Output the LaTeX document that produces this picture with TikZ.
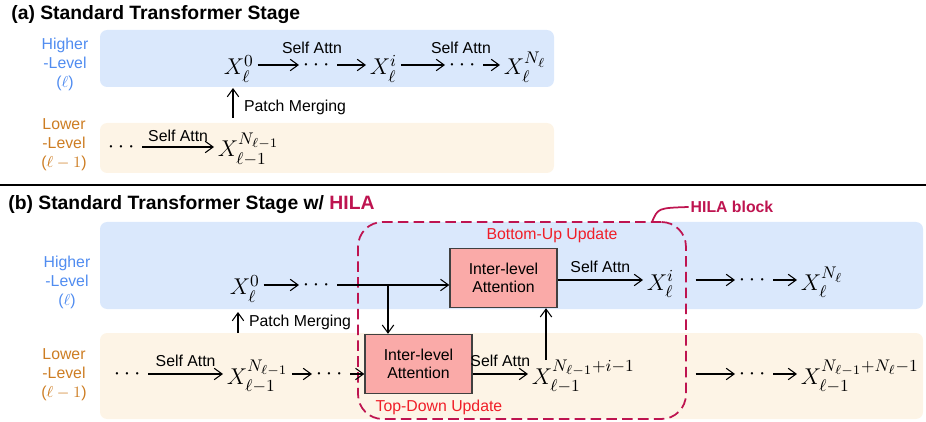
\RequirePackage{fix-cm}
\documentclass[tikz,border=0pt]{standalone}
\usepackage{fontspec}
\setmainfont{Liberation Sans}
\usepackage{amsmath, amssymb}
\usetikzlibrary{arrows.meta}
\DeclareMathSizes{13}{13}{9.6}{7.4}

\definecolor{hiFill}{RGB}{218,232,252}
\definecolor{loFill}{RGB}{253,244,230}
\definecolor{hiText}{RGB}{80,140,240}
\definecolor{loText}{RGB}{205,125,35}
\definecolor{ilFill}{RGB}{250,170,168}
\definecolor{hilaCol}{RGB}{190,20,80}
\definecolor{updCol}{RGB}{240,30,40}

\newcommand{\dts}{\raisebox{2.6pt}{$\cdots$}}

\begin{document}
\begin{tikzpicture}[x=0.02cm,y=-0.02cm]
	\tikzstyle{feat}=[anchor=base west, inner sep=2pt, text height=13pt, text depth=1.6pt, font=\fontsize{13}{15}\selectfont]
	\tikzstyle{lbl}=[inner sep=1pt, font=\fontsize{9}{10}\selectfont]
	\tikzstyle{lvl}=[align=center, inner sep=0pt, font=\fontsize{9}{10.8}\selectfont]
	\tikzstyle{title}=[anchor=west, inner sep=0pt, font=\fontsize{11}{13}\selectfont\bfseries]
	\tikzstyle{arr}=[-{Straight Barb[length=4.5pt,width=6.5pt]}, line width=0.6pt]
	\tikzstyle{ilblock}=[draw=black!75, fill=ilFill, line width=0.8pt, align=center, minimum width=2.14cm, minimum height=1.18cm, font=\fontsize{9}{10}\selectfont]
	\useasboundingbox (0,0) rectangle (926,422);

	% (a) standard stage
	\node[title] (titA) at (11,15) {(a) Standard Transformer Stage};
	\fill[hiFill, rounded corners=4pt] (100,30) rectangle (554,87);
	\fill[loFill, rounded corners=4pt] (100,123) rectangle (554,173);
	\node[lvl, text=hiText] (hlA) at (65,64) {Higher\\-Level\\($\ell$)};
	\node[lvl, text=loText] (llA) at (64,145) {Lower\\-Level\\($\ell-1$)};

	\node[feat] (a0) at (220,75) {$X_\ell^0$};
	\node[feat] (ad1) at (299,75) {\dts};
	\node[feat] (ai) at (366,75) {$X_\ell^i$};
	\node[feat] (ad2) at (445,75) {\dts};
	\node[feat] (aN) at (500,75) {$X_\ell^{N_\ell}$};
	\draw[arr] (a0) -- (ad1);
	\draw[arr] (ad1) -- (ai);
	\draw[arr] (ai) -- (ad2);
	\draw[arr] (ad2) -- (aN);
	\node[lbl] (sa1) at (312,48) {Self Attn};
	\node[lbl] (sa2) at (461,48) {Self Attn};

	\node[feat] (ld0) at (104,157) {\dts};
	\node[feat] (lN) at (214,157) {$X_{\ell-1}^{N_{\ell-1}}$};
	\draw[arr] (ld0) -- (lN) node[midway, above=2pt, lbl] {Self Attn};

	\coordinate (pa0) at (233,118);
	\coordinate (pa1) at (233,88);
	\draw[arr] (pa0) -- (pa1) node[pos=0.35, right=5pt, lbl] {Patch Merging};

	\draw[line width=0.6pt] (0,185) -- (926,185);

	% (b) with HILA
	\node[title] (titB) at (8,205) {(b) Standard Transformer Stage w/ \textcolor{hilaCol}{HILA}};
	\fill[hiFill, rounded corners=4pt] (100,222) rectangle (923,309);
	\fill[loFill, rounded corners=4pt] (100,333) rectangle (923,419);
	\node[lvl, text=hiText] (hlB) at (67,282) {Higher\\-Level\\($\ell$)};
	\node[lvl, text=loText] (llB) at (64,375) {Lower\\-Level\\($\ell-1$)};

	\node[draw=hilaCol, line width=1pt, dash pattern=on 6pt off 3pt, rounded corners=14pt, minimum width=6.56cm, minimum height=3.94cm] (hila) at (522,320.5) {};
	\coordinate (hc) at (652,222);
	\node[lbl, text=hilaCol, font=\fontsize{9}{10}\selectfont\bfseries] (hilaT) at (732,207) {HILA block};
	\draw[hilaCol, line width=1pt] (hc) .. controls (658,208) .. (hilaT.west);
	\node[lbl, text=updCol] (buT) at (552,235) {Bottom-Up Update};
	\node[lbl, text=updCol] (tdT) at (439,407) {Top-Down Update};

	\node[ilblock] (ilTop) at (503.5,278) {Inter-level\\Attention};
	\node[ilblock] (ilBot) at (418.5,364) {Inter-level\\Attention};

	% higher level row
	\node[feat] (b0) at (226,295) {$X_\ell^0$};
	\node[feat] (bd1) at (299,295) {\dts};
	\draw[arr] (b0) -- (bd1);
	\draw[arr] (bd1) -- (bd1 -| ilTop.west);
	\coordinate (br) at (388,285);
	\draw[arr] (br) -- (br |- ilBot.north);
	\node[feat] (bi) at (643,290) {$X_\ell^i$};
	\draw[arr] (ilTop.east |- bi) -- (bi) node[midway, above=3pt, lbl] {Self Attn};
	\node[feat] (bd2) at (735,290) {\dts};
	\node[feat] (bN) at (797,290) {$X_\ell^{N_\ell}$};
	\draw[arr, shorten <=5pt] (bi -| hila.east) -- (bd2);
	\draw[arr] (bd2) -- (bN);

	% lower level row
	\node[feat] (cd0) at (110,384) {\dts};
	\node[feat] (c1) at (223,384) {$X_{\ell-1}^{N_{\ell-1}}$};
	\draw[arr] (cd0) -- (c1) node[midway, above=3pt, lbl] {Self Attn};
	\node[feat] (cd1) at (312,384) {\dts};
	\draw[arr] (c1) -- (cd1);
	\draw[arr] (cd1) -- (cd1 -| ilBot.west);
	\node[feat] (cm) at (528,384) {$X_{\ell-1}^{N_{\ell-1}+i-1}$};
	\draw[arr] (ilBot.east |- cm) -- (cm) node[midway, above=3pt, lbl] {Self Attn};
	\coordinate (bu) at (546,360);
	\draw[arr] (bu) -- (bu |- ilTop.south);
	\node[feat] (cd2) at (735,384) {\dts};
	\node[feat] (cN) at (797,384) {$X_{\ell-1}^{N_{\ell-1}+N_\ell-1}$};
	\draw[arr, shorten <=5pt] (cm -| hila.east) -- (cd2);
	\draw[arr] (cd2) -- (cN);

	\coordinate (pb0) at (238,333);
	\coordinate (pb1) at (238,312);
	\draw[arr] (pb0) -- (pb1) node[midway, right=5pt, lbl] {Patch Merging};
\end{tikzpicture}
\end{document}
